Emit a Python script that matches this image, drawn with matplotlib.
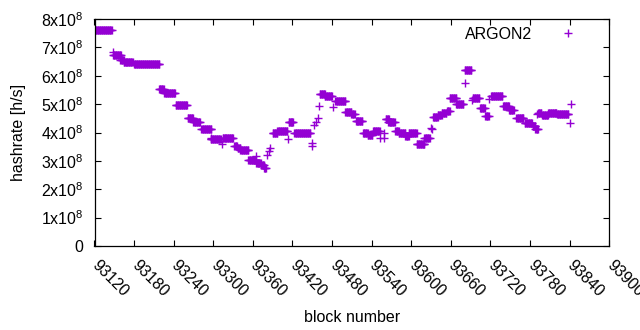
import numpy as np
import matplotlib
matplotlib.use("Agg")
import matplotlib.pyplot as plt

plt.rcParams['font.family'] = ['Liberation Sans', 'DejaVu Sans']
plt.rcParams['mathtext.default'] = 'regular'

# Runs of constant hashrate: first block, last block, hashrate (units of 1e8 h/s)
run_start = [93122, 93148, 93159, 93164, 93180, 93218, 93226, 93243, 93261, 93270,
             93282, 93296, 93314, 93332, 93337, 93341, 93353, 93365, 93373, 93377,
             93390, 93397, 93414, 93423, 93461, 93469, 93485, 93500, 93509, 93516,
             93527, 93534, 93542, 93561, 93565, 93576, 93581, 93591, 93596, 93608,
             93620, 93633, 93640, 93646, 93654, 93658, 93668, 93681, 93693, 93704,
             93712, 93721, 93739, 93748, 93759, 93772, 93784, 93788, 93792, 93798,
             93807, 93821]
run_end = [93146, 93160, 93164, 93178, 93218, 93225, 93242, 93260, 93269, 93280,
           93297, 93311, 93330, 93336, 93341, 93353, 93364, 93372, 93377, 93380,
           93397, 93412, 93421, 93447, 93469, 93480, 93500, 93509, 93514, 93526,
           93534, 93541, 93552, 93566, 93575, 93581, 93591, 93596, 93608, 93620,
           93628, 93640, 93646, 93653, 93658, 93668, 93679, 93691, 93703, 93711,
           93717, 93738, 93748, 93755, 93770, 93783, 93788, 93792, 93797, 93807,
           93820, 93838]
run_value = [7.60, 6.72, 6.54, 6.47, 6.40, 5.53, 5.38, 4.96, 4.50, 4.38,
             4.14, 3.78, 3.79, 3.52, 3.44, 3.37, 3.03, 2.93, 2.84, 2.74,
             3.97, 4.05, 4.37, 3.97, 5.34, 5.27, 5.11, 4.72, 4.64, 4.40,
             3.99, 3.90, 4.07, 4.46, 4.37, 4.05, 3.97, 3.87, 3.97, 3.58,
             3.79, 4.54, 4.60, 4.67, 4.75, 5.20, 5.02, 6.19, 5.20, 4.87,
             4.58, 5.28, 4.93, 4.81, 4.50, 4.33, 4.22, 4.13, 4.67, 4.60,
             4.69, 4.64]

# Isolated blocks
single_block = [93148, 93296, 93313, 93365, 93382, 93384, 93386, 93413, 93449, 93450,
                93453, 93456, 93459, 93460, 93482, 93553, 93558, 93558, 93630, 93631,
                93681, 93692, 93717, 93790, 93840, 93842]
single_value = [6.82, 3.82, 3.58, 3.17, 3.20, 3.35, 3.45, 3.76, 3.52, 3.64,
                4.28, 4.38, 4.50, 4.93, 4.91, 3.79, 3.99, 3.79, 4.17, 4.11,
                5.75, 5.15, 5.17, 4.64, 4.32, 4.99]

x_ticks = list(range(93120, 93901, 60))
y_ticks = [0, 1, 2, 3, 4, 5, 6, 7, 8]
y_labels = ['0'] + ['%dx10$^{%d}$' % (v, 8) for v in y_ticks[1:]]

blocks = []
rates = []
for s, e, v in zip(run_start, run_end, run_value):
    for b in range(s, e + 1):
        blocks.append(b)
        rates.append(v * 1e8)
blocks += single_block
rates += [v * 1e8 for v in single_value]

fig = plt.figure(figsize=(6.4, 3.3), dpi=100)
ax = fig.add_axes([94.5 / 640, 1 - 246 / 330, (609.3 - 94.5) / 640, (246 - 19) / 330])

ax.plot(blocks, rates, linestyle='none', marker='+', color='#9400d3',
        markersize=5.4, markeredgewidth=1.0, label='ARGON2')

ax.set_xlim(93120, 93900)
ax.set_ylim(0, 8e8)
ax.set_xticks(x_ticks)
ax.set_xticklabels([str(t) for t in x_ticks], rotation=-45, ha='left', va='center',
                   rotation_mode='anchor')
ax.set_yticks([v * 1e8 for v in y_ticks])
ax.set_yticklabels(y_labels)

ax.tick_params(direction='in', length=4.5, width=0.8, labelsize=11.5,
               top=True, right=True, colors='black')
ax.tick_params(axis='y', pad=8)
ax.tick_params(axis='x', pad=12)
for sp in ax.spines.values():
    sp.set_linewidth(0.9)

ax.set_xlabel('block number', fontsize=11.5)
ax.set_ylabel('hashrate [h/s]', fontsize=11.5)
ax.xaxis.set_label_coords(0.5, -0.28)
ax.yaxis.set_label_coords(-0.133, 0.5)

ax.legend(loc='upper right', bbox_to_anchor=(0.95, 0.965), markerfirst=False,
          frameon=False, fontsize=11.5, handlelength=2.0, handletextpad=1.2,
          borderaxespad=0, borderpad=0)

fig.savefig('out.png', dpi=100)
